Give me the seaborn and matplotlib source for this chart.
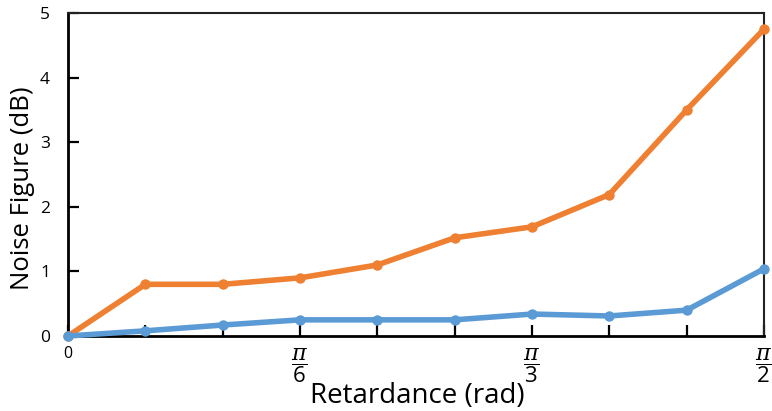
import numpy as np
import pandas as pd
import matplotlib
matplotlib.use("Agg")
import matplotlib.pyplot as plt
import seaborn as sns

# Data: retardance in steps of pi/18
steps = [0, 1, 2, 3, 4, 5, 6, 7, 8, 9]
orange_nf = [0.0, 0.80, 0.80, 0.90, 1.10, 1.52, 1.69, 2.19, 3.50, 4.75]
blue_nf = [0.0, 0.08, 0.17, 0.25, 0.25, 0.25, 0.34, 0.31, 0.40, 1.04]
xtick_labels = ["0", r"$\dfrac{\pi}{6}$", r"$\dfrac{\pi}{3}$", r"$\dfrac{\pi}{2}$"]
ytick_values = [0, 1, 2, 3, 4, 5]

x = [s * np.pi / 18 for s in steps]
df = pd.DataFrame({
    "x": x * 2,
    "nf": orange_nf + blue_nf,
    "series": ["orange"] * len(x) + ["blue"] * len(x),
})

sns.set_style("white")
plt.rcParams["font.family"] = ["Open Sans", "DejaVu Sans"]
plt.rcParams["mathtext.fontset"] = "custom"
plt.rcParams["mathtext.rm"] = "Open Sans"
plt.rcParams["mathtext.it"] = "DejaVu Serif:italic"
plt.rcParams["mathtext.bf"] = "Open Sans:bold"
plt.rcParams["text.color"] = "black"
plt.rcParams["xtick.color"] = "black"
plt.rcParams["ytick.color"] = "black"

fig = plt.figure(figsize=(7.72, 4.11), dpi=100)
ax = fig.add_axes([68 / 772, 1 - 336 / 411, (764 - 68) / 772, (336 - 13) / 411])

palette = {"orange": "#EF7F31", "blue": "#5B9BD5"}
sns.lineplot(data=df, x="x", y="nf", hue="series", palette=palette,
             hue_order=["orange", "blue"], marker="o", markersize=7.5,
             markeredgewidth=0, linewidth=4, legend=False, ax=ax,
             clip_on=False, zorder=3)

ax.set_xlim(0, np.pi / 2)
ax.set_ylim(0, 5)
ax.set_xticks(x, minor=True)
ax.set_xticks([0, np.pi / 6, np.pi / 3, np.pi / 2])
ax.set_xticklabels(xtick_labels, fontsize=16)
ax.set_yticks(ytick_values)
ax.set_yticklabels([str(v) for v in ytick_values], fontsize=12.5)
ax.tick_params(axis="x", which="major", direction="in", length=8, width=1.6,
               pad=7, bottom=True, labelcolor="black")
ax.tick_params(axis="x", which="minor", direction="in", length=8, width=1.6,
               bottom=True)
ax.tick_params(axis="y", direction="in", length=8, width=1.6, left=True,
               pad=13, labelcolor="black")
ax.get_xticklabels()[0].set_fontsize(11.5)

for side in ["left", "bottom"]:
    ax.spines[side].set_linewidth(2)
    ax.spines[side].set_color("black")
for side in ["top", "right"]:
    ax.spines[side].set_linewidth(1.5)
    ax.spines[side].set_color("#222222")

ax.set_xlabel("")
ax.set_ylabel("")
fig.text(23 / 772, 1 - 188 / 411, "Noise Figure (dB)", fontsize=18.5,
         rotation=90, ha="center", va="center", color="black")
fig.text(417 / 772, 1 - 403 / 411, "Retardance (rad)", fontsize=20,
         ha="center", va="baseline", color="black")

fig.savefig("out.png", dpi=100)
